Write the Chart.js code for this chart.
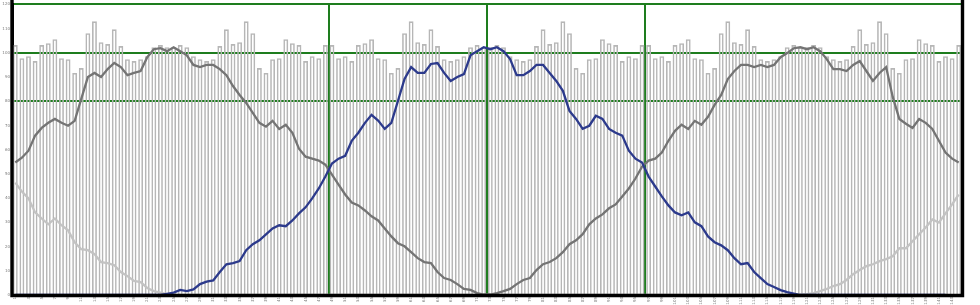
<!DOCTYPE html>
<html><head><meta charset="utf-8">
<script src="https://cdn.jsdelivr.net/npm/chart.js@4.4.1/dist/chart.umd.min.js"></script>
<style>html,body{margin:0;padding:0;background:#fff;}canvas{display:block;}</style>
</head><body>
<canvas id="c" width="980" height="305"></canvas>
<script>
const categories = ["1","2","3","4","5","6","7","8","9","10","11","12","13","14","15","16","17","18","19","20","21","22","23","24","25","26","27","28","29","30","31","32","33","34","35","36","37","38","39","40","41","42","43","44","45","46","47","48","49","50","51","52","53","54","55","56","57","58","59","60","61","62","63","64","65","66","67","68","69","70","71","72","73","74","75","76","77","78","79","80","81","82","83","84","85","86","87","88","89","90","91","92","93","94","95","96","97","98","99","100","101","102","103","104","105","106","107","108","109","110","111","112","113","114","115","116","117","118","119","120","121","122","123","124","125","126","127","128","129","130","131","132","133","134","135","136","137","138","139","140","141","142","143","144"];

const barValues = [
103.2,97.8,98.6,96.6,103.2,104,105.6,97.8,97.4,91.7,93.7,108.1,113,104.4,103.6,109.7,102.8,97.4,96.6,97.4,98.6,102.3,103.2,102.3,
102.3,103.2,102.3,98.6,97.4,96.6,97.4,102.8,109.7,103.6,104.4,113,108.1,93.7,91.7,97.4,97.8,105.6,104,103.2,96.6,98.6,97.8,103.2,
103.2,97.8,98.6,96.6,103.2,104,105.6,97.8,97.4,91.7,93.7,108.1,113,104.4,103.6,109.7,102.8,97.4,96.6,97.4,98.6,102.3,103.2,102.3,
102.3,103.2,102.3,98.6,97.4,96.6,97.4,102.8,109.7,103.6,104.4,113,108.1,93.7,91.7,97.4,97.8,105.6,104,103.2,96.6,98.6,97.8,103.2,
103.2,97.8,98.6,96.6,103.2,104,105.6,97.8,97.4,91.7,93.7,108.1,113,104.4,103.6,109.7,102.8,97.4,96.6,97.4,98.6,102.3,103.2,102.3,
102.3,103.2,102.3,98.6,97.4,96.6,97.4,102.8,109.7,103.6,104.4,113,108.1,93.7,91.7,97.4,97.8,105.6,104,103.2,96.6,98.6,97.8,103.2
];

const blueLine = [
0,0,0,0,0,0,0,0,0,0,0,0,0,0,0,0,0,0,0,0,0,0,0,0.5,1,2.1,1.6,2.3,4.5,5.5,6,9.5,12.7,13.2,14,18.5,21,22.6,25,27.5,28.8,28.4,30.8,33.7,36.2,39.9,44,48.9,
54.3,56.3,57.5,63.7,67,71.1,74.4,72,68.6,71.1,80.1,89.2,94.1,91.7,91.7,95.4,95.8,91.7,88.4,90,91.2,99,100.7,102.3,
101.5,102.3,100.7,97.4,90.8,90.8,92.5,95,95,91.7,88.4,84.3,76,72.7,68.6,69.9,74,72.7,68.6,67,65.8,59.6,56.3,54.7,
48.9,44.8,40.7,37,34.1,32.9,34.1,30,28.4,24.2,21.8,20.5,18.5,15.2,12.7,13.2,9.5,7,4.5,3.3,2,1.2,0.6,0,0,0,0,0,0,0,0,0,0,0,0,0,0,0,0,0,0,0,0,0,0,0
];

const grayLine = [
54.7,56.7,59.6,65.8,69,71.1,72.7,71.1,69.9,71.9,81,90,91.7,90,93.3,95.8,94.1,90.8,91.7,92.5,98.2,101.5,101.9,100.7,
102.3,100.7,99,95,94.1,95,95,93.3,90.8,86.3,82.6,79.3,75.2,71.1,69.5,71.9,68.6,70.3,67,60.4,57.1,56.3,55.5,53.8,
49.7,45.6,41.5,38.2,37,34.9,32.5,30.8,27.5,24.2,21.4,20.1,17.7,15.2,13.6,13.2,9.5,7,6.2,4.5,2.5,2.1,0.8,0.2,
0.2,0.8,1.6,2.5,4.5,6.2,7,10.3,12.7,13.6,15.2,17.7,21,22.6,25.1,29.2,31.6,33.3,35.8,37.4,40.7,44,48.1,53,
55.5,56.3,58.8,63.7,67.8,70.3,68.6,71.9,70.3,73.6,78.5,82.6,89.2,92.5,95,95,94.1,95,94.1,95,98.2,99.9,101.9,102.3,
101.5,102.3,100.7,97.4,93.3,93.3,92.5,95,96.6,92.5,88.4,91.7,94.1,81.8,72.7,70.7,69,72.7,71.1,68.6,63.7,58.8,56.3,54.7
];

const lightGrayLine = [
46.4,42.7,39.9,34.1,31.6,29.2,31.6,28.8,26.7,21.8,18.9,18.5,16.9,13.6,13.2,12.3,9.5,7.8,5.8,5.3,2.9,1.6,1,0.4,
0,0,0,0,0,0,0,0,0,0,0,0,0,0,0,0,0,0,0,0,0,0,0,0,
0,0,0,0,0,0,0,0,0,0,0,0,0,0,0,0,0,0,0,0,0,0,0,0,
0,0,0,0,0,0,0,0,0,0,0,0,0,0,0,0,0,0,0,0,0,0,0,0,
0,0,0,0,0,0,0,0,0,0,0,0,0,0,0,0,0,0,0,0,0,0,0,0.2,
0.4,0.8,1.6,2.5,3.7,4.5,6.2,8.6,10.3,11.9,12.7,14,14.8,16,19.3,19.3,22.2,25.1,27.9,31.2,29.9,33.7,37.4,41.5,43.2,46.4
];

const yTicks = [0,10,20,30,40,50,60,70,80,90,100,110,120];
const greenY = [80,100,120];
const greenXIndex = [48,72,96];

const GREEN = '#1e7d1e';

const frame = {
  id: 'frame',
  afterDraw(chart) {
    const {ctx, chartArea} = chart;
    ctx.save();
    ctx.strokeStyle = '#000';
    ctx.lineWidth = 3.4;
    ctx.beginPath();
    ctx.moveTo(chartArea.left, 0);
    ctx.lineTo(chartArea.left, chartArea.bottom + 0.5);
    ctx.lineTo(chartArea.right + 0.5, chartArea.bottom + 0.5);
    ctx.lineTo(chartArea.right + 0.5, 0);
    ctx.stroke();
    ctx.restore();
  }
};

new Chart(document.getElementById('c'), {
  type: 'bar',
  data: {
    labels: categories,
    datasets: [
      { type: 'line', data: blueLine, borderColor: '#2c3a8c', borderWidth: 2.3, pointRadius: 0, tension: 0, order: 1 },
      { type: 'line', data: grayLine, borderColor: '#747474', borderWidth: 2.3, pointRadius: 0, tension: 0, order: 2 },
      { type: 'line', data: lightGrayLine, borderColor: '#c3c3c3', borderWidth: 2.3, pointRadius: 0, tension: 0, order: 3 },
      { type: 'bar', data: barValues, backgroundColor: 'rgba(255,255,255,0)', borderColor: '#b6b6b6', borderWidth: 1.6,
        barPercentage: 0.74, categoryPercentage: 1, order: 10 }
    ]
  },
  options: {
    responsive: false,
    animation: false,
    devicePixelRatio: 1,
    layout: { padding: { left: 0, right: 18, top: 3, bottom: 0 } },
    plugins: { legend: { display: false }, tooltip: { enabled: false } },
    scales: {
      x: {
        offset: true,
        afterFit(s) { s.height = 10; },
        grid: {
          offset: true,
          drawTicks: false,
          color: (c) => greenXIndex.includes(c.index) ? GREEN : 'rgba(0,0,0,0)',
          lineWidth: 2
        },
        border: { display: true, color: '#000', width: 3 },
        ticks: {
          autoSkip: false, maxRotation: 90, minRotation: 90, padding: 2,
          font: { size: 4, family: 'DejaVu Sans' }, color: '#7a7a7a',
          callback: function(v, i) { return i % 2 === 0 ? this.getLabelForValue(v) : ''; }
        }
      },
      y: {
        min: 0, max: 120,
        afterFit(s) { s.width = 12; },
        afterBuildTicks(s) { s.ticks = yTicks.map(v => ({ value: v })); },
        grid: {
          drawTicks: false,
          color: (c) => (c.tick && greenY.includes(c.tick.value)) ? GREEN : 'rgba(0,0,0,0)',
          lineWidth: 2
        },
        border: { display: true, color: '#000', width: 3 },
        ticks: { padding: 2, font: { size: 4, family: 'DejaVu Sans' }, color: '#7a7a7a' }
      }
    }
  },
  plugins: [frame]
});
</script>
</body></html>
